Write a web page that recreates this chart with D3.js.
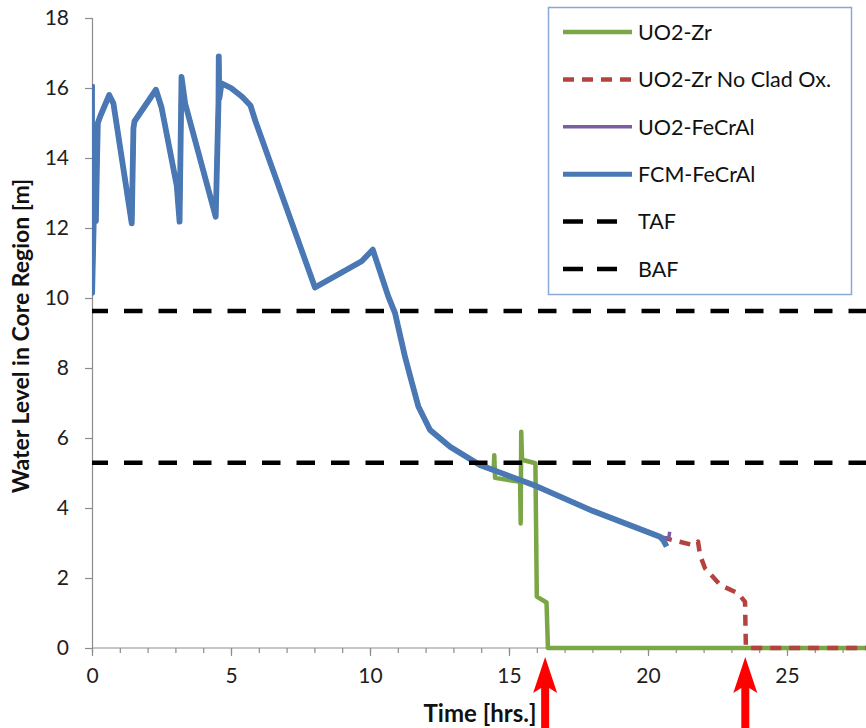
<!DOCTYPE html>
<html>
<head>
<meta charset="utf-8">
<script src="https://cdn.jsdelivr.net/npm/d3@7"></script>
<style>
  body { margin: 0; background: #fff; }
  svg { display: block; }
  text { font-family: Lato, "Open Sans", sans-serif; }
</style>
</head>
<body>
<svg id="chart" width="866" height="728"></svg>
<script>
// Core water level history shared by all four cases (time in hrs, level in m)
const sharedTime  = [0, 0.005, 0.06, 0.1, 0.14, 0.18, 0.21, 0.3, 0.62, 0.77, 1.43, 1.49, 1.53, 2.3, 2.5, 3.05, 3.15, 3.22, 3.35, 4.45, 4.55, 4.56, 4.58, 4.66, 5.0, 5.4, 5.7, 5.88, 8.02, 9.7, 10.1, 10.66, 10.9, 11.26, 11.45, 11.74, 12.16, 12.88, 13.95];
const sharedLevel = [16.1, 10.15, 12.1, 13.9, 12.2, 13.9, 15.0, 15.2, 15.8, 15.56, 12.13, 14.85, 15.05, 15.95, 15.45, 13.2, 12.18, 16.32, 15.56, 12.32, 15.6, 16.9, 15.7, 16.13, 16.0, 15.75, 15.5, 15.05, 10.3, 11.05, 11.38, 10.04, 9.57, 8.32, 7.75, 6.9, 6.23, 5.75, 5.23];

// Late-phase histories for each case
const uo2ZrTime  = [14.45, 14.47, 14.5, 15.4, 15.42, 15.44, 15.47, 15.95, 16.0, 16.35, 16.4, 30];
const uo2ZrLevel = [5.08, 5.51, 4.86, 4.75, 3.56, 6.18, 5.38, 5.28, 1.47, 1.3, 0, 0];

const noOxTime  = [16, 18, 20.43, 20.6, 21.63, 21.8, 21.87, 22.05, 22.6, 23.25, 23.49, 23.52, 23.55, 30];
const noOxLevel = [4.62, 3.92, 3.18, 3.14, 2.94, 3.04, 2.66, 2.28, 1.8, 1.56, 1.32, 0.04, 0, 0];

const uo2FeCrAlTime  = [16, 18, 20.43, 20.55, 20.75, 20.78];
const uo2FeCrAlLevel = [4.62, 3.92, 3.18, 3.15, 3.15, 3.32];

const fcmFeCrAlTime  = [16, 18, 20.43, 20.55, 20.67];
const fcmFeCrAlLevel = [4.62, 3.92, 3.18, 3.08, 2.9];

// Reference elevations: top and bottom of active fuel
const tafLevel = 9.63;
const bafLevel = 5.29;

// Times at which the core is fully uncovered
const arrowTimes = [16.3, 23.5];

const xMajorTicks = [0, 5, 10, 15, 20, 25];
const xMinorTicks = d3.range(0, 30, 1);
const yTicks = [0, 2, 4, 6, 8, 10, 12, 14, 16, 18];

const seriesNames = ["UO2-Zr", "UO2-Zr No Clad Ox.", "UO2-FeCrAl", "FCM-FeCrAl", "TAF", "BAF"];

// ---------------------------------------------------------------
const svg = d3.select("#chart");
const x = d3.scaleLinear().domain([0, 30]).range([92, 92 + 30 * 27.8]);
const y = d3.scaleLinear().domain([0, 18]).range([648, 18]);

const zip = (t, v) => t.map((d, i) => [d, v[i]]);
const shared = zip(sharedTime, sharedLevel);
const series = [
  { name: seriesNames[0], color: "#7aa645", width: 4.5, dash: null, pts: shared.concat(zip(uo2ZrTime, uo2ZrLevel)) },
  { name: seriesNames[1], color: "#b4433f", width: 4.5, dash: "11,8", pts: shared.concat(zip(noOxTime, noOxLevel)) },
  { name: seriesNames[2], color: "#7b5ea1", width: 3.5, dash: null, pts: shared.concat(zip(uo2FeCrAlTime, uo2FeCrAlLevel)) },
  { name: seriesNames[3], color: "#4a78b4", width: 5.8, dash: null, pts: shared.concat(zip(fcmFeCrAlTime, fcmFeCrAlLevel)) }
];

svg.append("defs").append("clipPath").attr("id", "plotClip")
  .append("rect").attr("x", 92).attr("y", 0).attr("width", 900).attr("height", 728);

// Axes
const axisColor = "#8c8c8c";
const yAxis = svg.append("g").attr("transform", "translate(92,0)")
  .call(d3.axisLeft(y).tickValues(yTicks).tickSize(7).tickPadding(16).tickFormat(d3.format("d")));
const xMinor = svg.append("g").attr("transform", "translate(0,648)")
  .call(d3.axisBottom(x).tickValues(xMinorTicks).tickSize(5).tickFormat(""));
const xAxis = svg.append("g").attr("transform", "translate(0,648)")
  .call(d3.axisBottom(x).tickValues(xMajorTicks).tickSize(8).tickPadding(12).tickFormat(d3.format("d")));

[yAxis, xMinor, xAxis].forEach(g => {
  g.select(".domain").attr("stroke", axisColor).attr("stroke-width", 1.2);
  g.selectAll(".tick line").attr("stroke", axisColor).attr("stroke-width", 1.2);
  g.selectAll(".tick text").attr("fill", "#1e1e1e").style("font-size", "21px").attr("font-family", null);
});
xMinor.select(".domain").remove();
xAxis.select(".domain").attr("d", `M92,0H866`);

// Axis titles
svg.append("text")
  .attr("transform", "translate(29,336) rotate(-90)")
  .attr("text-anchor", "middle")
  .style("font-size", "23px").style("font-weight", "bold").attr("fill", "#111")
  .text("Water Level in Core Region [m]");
svg.append("text")
  .attr("x", 480).attr("y", 722)
  .attr("text-anchor", "middle")
  .style("font-size", "24px").style("font-weight", "bold").attr("fill", "#111")
  .text("Time [hrs.]");

// Data lines
const line = d3.line().x(d => x(d[0])).y(d => y(d[1]));
const plot = svg.append("g").attr("clip-path", "url(#plotClip)");
series.forEach(s => {
  plot.append("path")
    .datum(s.pts)
    .attr("d", line)
    .attr("fill", "none")
    .attr("stroke", s.color)
    .attr("stroke-width", s.width)
    .attr("stroke-linejoin", "round")
    .attr("stroke-dasharray", s.dash);
});

// TAF / BAF reference lines
[tafLevel, bafLevel].forEach(v => {
  plot.append("line")
    .attr("x1", x(0)).attr("x2", x(30))
    .attr("y1", y(v)).attr("y2", y(v))
    .attr("stroke", "#000").attr("stroke-width", 4.5)
    .attr("stroke-dasharray", "18.5,16").attr("stroke-dashoffset", 2.5);
});

// Legend
const legend = svg.append("g");
legend.append("rect")
  .attr("x", 548.5).attr("y", 7.5).attr("width", 303).attr("height", 287)
  .attr("fill", "#fff").attr("stroke", "#88a9d8").attr("stroke-width", 1.5);
const legendItems = [
  { color: series[0].color, width: 4.5, dash: null, x2: 632 },
  { color: series[1].color, width: 4.5, dash: "11,8", x2: 632 },
  { color: series[2].color, width: 3.5, dash: null, x2: 632 },
  { color: series[3].color, width: 5, dash: null, x2: 632 },
  { color: "#000", width: 4.5, dash: "20,14", x2: 618 },
  { color: "#000", width: 4.5, dash: "20,14", x2: 618 }
];
legendItems.forEach((it, i) => {
  const cy = 32 + i * 47.4;
  legend.append("line")
    .attr("x1", 563).attr("x2", it.x2).attr("y1", cy).attr("y2", cy)
    .attr("stroke", it.color).attr("stroke-width", it.width)
    .attr("stroke-dasharray", it.dash);
  legend.append("text")
    .attr("x", 638).attr("y", cy).attr("dy", "0.36em")
    .style("font-size", "21.5px").attr("fill", "#111")
    .text(seriesNames[i]);
});

// Uncovery markers below the time axis
arrowTimes.forEach(t => {
  const cx = x(t), top = y(0) + 9;
  const p = d3.path();
  p.moveTo(cx, top);
  p.lineTo(cx + 12, top + 36);
  p.lineTo(cx + 4, top + 31);
  p.lineTo(cx + 4, 728);
  p.lineTo(cx - 4, 728);
  p.lineTo(cx - 4, top + 31);
  p.lineTo(cx - 12, top + 36);
  p.closePath();
  svg.append("path").attr("d", p.toString()).attr("fill", "#ff0000");
});
</script>
</body>
</html>
